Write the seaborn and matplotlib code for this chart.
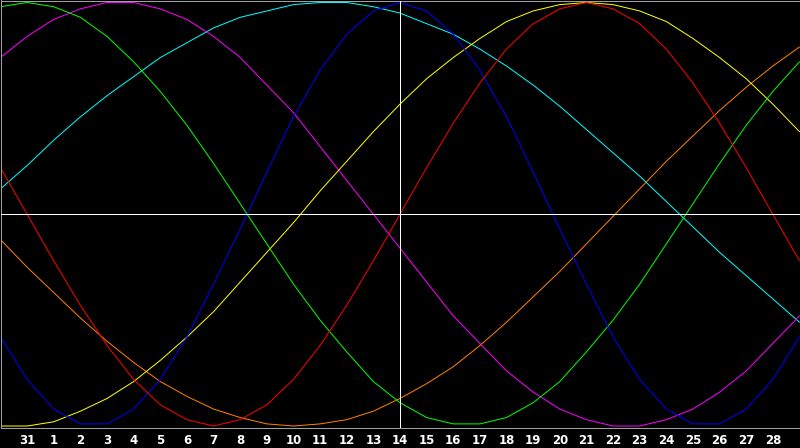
import numpy as np
import pandas as pd
import matplotlib
matplotlib.use("Agg")
import matplotlib.pyplot as plt
import seaborn as sns

# Day positions 0..30 (Jan 30 .. Mar 1); labelled ticks for 31, 1..28
day_index = list(range(31))
tick_index = list(range(1, 30))
tick_labels = ["31"] + [str(d) for d in range(1, 29)]
today_index = 15

blue = [-0.58, -0.78, -0.92, -0.99, -0.99, -0.92, -0.78, -0.58, -0.33, -0.07, 0.20, 0.46, 0.68, 0.85, 0.96, 1.00, 0.96, 0.85, 0.68, 0.46, 0.20, -0.07, -0.33, -0.58, -0.78, -0.92, -0.99, -0.99, -0.92, -0.78, -0.58]
red = [0.22, 0.00, -0.22, -0.43, -0.62, -0.78, -0.90, -0.97, -1.00, -0.97, -0.90, -0.78, -0.62, -0.43, -0.22, 0.00, 0.22, 0.43, 0.62, 0.78, 0.90, 0.97, 1.00, 0.97, 0.90, 0.78, 0.62, 0.43, 0.22, 0.00, -0.22]
green = [0.98, 1.00, 0.98, 0.93, 0.84, 0.72, 0.58, 0.42, 0.24, 0.05, -0.14, -0.33, -0.50, -0.65, -0.79, -0.89, -0.96, -0.99, -0.99, -0.96, -0.89, -0.79, -0.65, -0.50, -0.33, -0.14, 0.05, 0.24, 0.42, 0.58, 0.72]
magenta = [0.74, 0.84, 0.92, 0.97, 1.00, 1.00, 0.97, 0.92, 0.84, 0.74, 0.61, 0.48, 0.32, 0.16, 0.00, -0.16, -0.32, -0.48, -0.61, -0.74, -0.84, -0.92, -0.97, -1.00, -1.00, -0.97, -0.92, -0.84, -0.74, -0.61, -0.48]
yellow = [-1.00, -1.00, -0.98, -0.93, -0.87, -0.79, -0.69, -0.58, -0.46, -0.32, -0.18, -0.04, 0.11, 0.25, 0.39, 0.52, 0.64, 0.74, 0.83, 0.91, 0.96, 0.99, 1.00, 0.99, 0.96, 0.91, 0.83, 0.74, 0.64, 0.52, 0.39]
orange = [-0.12, -0.25, -0.37, -0.49, -0.60, -0.70, -0.79, -0.86, -0.92, -0.96, -0.99, -1.00, -0.99, -0.97, -0.93, -0.87, -0.80, -0.72, -0.62, -0.51, -0.39, -0.27, -0.14, -0.01, 0.12, 0.25, 0.37, 0.49, 0.60, 0.70, 0.79]
cyan = [0.12, 0.23, 0.35, 0.46, 0.56, 0.65, 0.74, 0.81, 0.88, 0.93, 0.96, 0.99, 1.00, 1.00, 0.98, 0.95, 0.90, 0.85, 0.78, 0.70, 0.61, 0.51, 0.40, 0.29, 0.18, 0.06, -0.06, -0.18, -0.29, -0.40, -0.51]

series = {
    "cyan": cyan, "orange": orange, "magenta": magenta, "yellow": yellow,
    "green": green, "blue": blue, "red": red,
}
palette = {
    "cyan": "#00ffff", "orange": "#ff8000", "magenta": "#ff00ff",
    "yellow": "#ffff00", "green": "#00ff00", "blue": "#0000ff", "red": "#ff0000",
}

rows = []
for name, vals in series.items():
    for x, v in zip(day_index, vals):
        rows.append({"day": x, "value": v, "cycle": name})
df = pd.DataFrame(rows)

sns.set_style("dark")
plt.rcParams["font.family"] = ["DejaVu Sans"]

W, H = 800, 448
fig = plt.figure(figsize=(W / 100, H / 100), dpi=100, facecolor="black")
ax = fig.add_axes([0.5 / W, 20 / H, 799 / W, 427.5 / H])
ax.set_facecolor("black")

px = 72 / 100
sns.lineplot(data=df, x="day", y="value", hue="cycle", palette=palette,
             hue_order=list(series.keys()), linewidth=px, ax=ax,
             legend=False, estimator=None, sort=False)

ax.axhline(0, color="white", linewidth=px, antialiased=False, zorder=5)
ax.axvline(today_index, color="white", linewidth=px, antialiased=False, zorder=5)

ax.set_xlim(0, 30)
ax.set_ylim(-1.0094, 1.0094)
ax.set_xticks(tick_index)
ax.set_xticklabels(tick_labels)
ax.set_yticks([])
ax.set_xlabel("")
ax.set_ylabel("")
ax.grid(False)
ax.tick_params(axis="x", direction="in", length=5 * px, width=px,
               color="#a0a0a0", labelcolor="white", labelsize=8.5, pad=4)
for lab in ax.get_xticklabels():
    lab.set_fontweight("bold")
for s in ax.spines.values():
    s.set_visible(True)
    s.set_color("#a0a0a0")
    s.set_linewidth(px)

fig.savefig("out.png", dpi=100, facecolor="black")
